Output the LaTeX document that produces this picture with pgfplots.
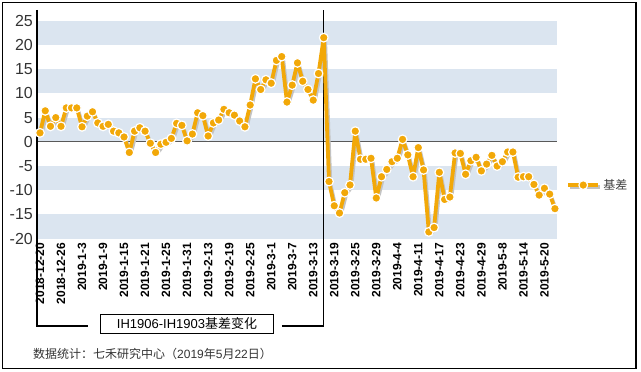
\documentclass[border=0pt]{standalone}
\usepackage{fontspec}
\setmainfont{Liberation Sans}
\newfontfamily\cjk{Noto Sans CJK SC}
\usepackage{pgfplots}
\pgfplotsset{compat=1.18}
\usepackage{pgfplotstable}
\definecolor{lineor}{RGB}{242,168,8}
\definecolor{band}{RGB}{219,229,240}
\definecolor{shadowc}{RGB}{195,195,195}

\pgfplotstableread{
x y
0 1.85
1 6.4
2 3.2
3 5.0
4 3.2
5 7.0
6 7.0
7 7.0
8 3.1
9 5.3
10 6.2
11 3.9
12 3.2
13 3.6
14 2.2
15 1.85
16 1.0
17 -2.2
18 2.2
19 2.9
20 2.2
21 -0.3
22 -2.2
23 -0.5
24 -0.1
25 0.7
26 3.8
27 3.4
28 0.2
29 1.6
30 6.0
31 5.4
32 1.2
33 3.9
34 4.5
35 6.7
36 6.0
37 5.5
38 4.3
39 3.1
40 7.6
41 13.0
42 10.8
43 12.8
44 12.1
45 16.8
46 17.6
47 8.2
48 11.7
49 16.3
50 12.5
51 10.8
52 8.6
53 14.1
54 21.5
55 -8.2
56 -13.2
57 -14.7
58 -10.5
59 -8.9
60 2.2
61 -3.6
62 -3.6
63 -3.4
64 -11.6
65 -7.2
66 -5.7
67 -4.1
68 -3.4
69 0.5
70 -2.7
71 -7.2
72 -1.2
73 -5.8
74 -18.6
75 -17.7
76 -6.3
77 -11.9
78 -11.4
79 -2.3
80 -2.4
81 -6.7
82 -3.9
83 -3.2
84 -6.0
85 -4.6
86 -2.8
87 -5.0
88 -4.1
89 -2.1
90 -2.1
91 -7.3
92 -7.2
93 -7.2
94 -8.8
95 -11.0
96 -9.6
97 -10.8
98 -13.8
}\basis

\begin{document}
\begin{tikzpicture}
\useasboundingbox (0pt,0pt) rectangle (641pt,-372pt);
\draw[line width=1.2pt] (2.5pt,-2.5pt) rectangle (636pt,-368.5pt);
\begin{axis}[
  at={(37pt,-238.7pt)}, anchor=south west,
  scale only axis, width=520.3pt, height=218pt,
  xmin=-0.57, xmax=98.45, ymin=-20, ymax=25,
  axis line style={draw=none},
  major tick length=0pt,
  xtick={0,4,...,96},
  xticklabels={2018-12-20,2018-12-26,2019-1-3,2019-1-9,2019-1-15,2019-1-21,2019-1-25,2019-1-31,2019-2-13,2019-2-19,2019-2-25,2019-3-1,2019-3-7,2019-3-13,2019-3-19,2019-3-25,2019-3-29,2019-4-4,2019-4-11,2019-4-17,2019-4-23,2019-4-29,2019-5-8,2019-5-14,2019-5-20},
  ytick={-20,-15,...,25},
  /pgf/number format/assume math mode=true,
  yticklabel style={font=\fontsize{16}{16}\selectfont, text=black!80, anchor=east, inner xsep=4pt, inner ysep=0pt},
  xticklabel style={font=\fontsize{12}{12}\selectfont\bfseries, rotate=90, anchor=east, inner xsep=4pt, inner ysep=0pt},
  clip=false,
  legend style={at={(1.017,0.246)}, anchor=west, draw=none, fill=none, font=\fontsize{12}{12}\selectfont, text=black!75, inner sep=0pt},
  legend image code/.code={
    \draw[shadowc, line width=3.5pt] (1.5pt,-2pt) -- (31.5pt,-2pt);
    \draw[#1, mark repeat=2, mark phase=2] plot coordinates {(0pt,0pt) (15pt,0pt) (30pt,0pt)};
  },
]
\fill[band] (axis cs:-0.57,20) rectangle (axis cs:98.45,25);
\fill[band] (axis cs:-0.57,10) rectangle (axis cs:98.45,15);
\fill[band] (axis cs:-0.57,0) rectangle (axis cs:98.45,5);
\fill[band] (axis cs:-0.57,-10) rectangle (axis cs:98.45,-5);
\fill[band] (axis cs:-0.57,-20) rectangle (axis cs:98.45,-15);
\draw[black!65, line width=1pt] (axis cs:-0.57,0) -- (axis cs:98.45,0);
\draw[line width=1.3pt] (axis cs:-0.57,27.21) -- (axis cs:-0.57,-38.02) -- (axis cs:9.135,-38.02);
\draw[line width=1.3pt] (axis cs:46.05,-38.02) -- (axis cs:53.95,-38.02) -- (axis cs:53.95,27.21);
\addplot[shadowc, line width=3.5pt, line join=round, no markers, xshift=1.5pt, yshift=-2pt, forget plot] table {\basis};
\addplot[lineor, line width=3.8pt, line join=round, mark=*, mark size=4.4pt, mark options={fill=lineor, draw=white, line width=1.2pt}] table {\basis};
\addlegendentry{\cjk 基差}
\end{axis}
\node[draw, line width=0.8pt, minimum width=172.6pt, minimum height=19.3pt, inner sep=0pt, font=\fontsize{13}{13}\selectfont] at (187pt,-323.7pt) {IH1906-IH1903{\cjk 基差变化}};
\node[anchor=west, inner sep=0pt, font=\fontsize{12}{12}\selectfont, text=black!80] at (33pt,-354.3pt) {{\cjk 数据统计：七禾研究中心（}2019{\cjk 年}5{\cjk 月}22{\cjk 日）}};
\end{tikzpicture}
\end{document}
